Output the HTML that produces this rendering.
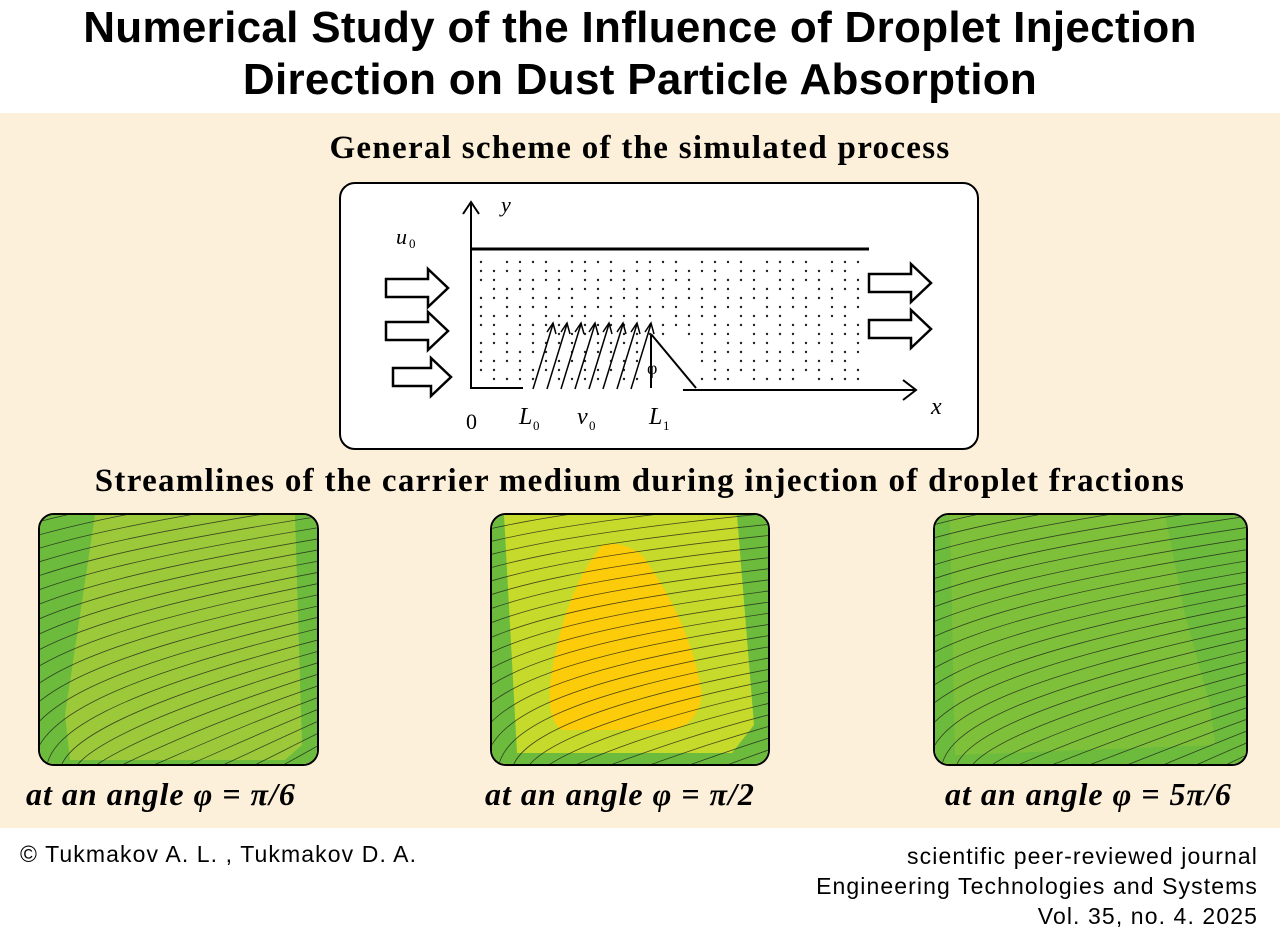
<!DOCTYPE html>
<html><head><meta charset="utf-8">
<style>
body{margin:0;width:1280px;height:951px;position:relative;background:#fff;font-family:"Liberation Sans",sans-serif;overflow:hidden}
.t{position:absolute;left:0;width:1280px;text-align:center}
#title{top:2px;font-size:44px;font-weight:bold;line-height:52px;color:#000;letter-spacing:0.3px}
#band{position:absolute;left:0;top:113px;width:1280px;height:715px;background:#fdf0da}
.h2{font-family:"Liberation Serif",serif;font-weight:bold;font-size:33px;letter-spacing:1.3px}
.cap{position:absolute;font-family:"Liberation Serif",serif;font-weight:bold;font-style:italic;font-size:32px;top:776px;letter-spacing:1px}
.panel{position:absolute;top:513px;height:253px;border:2px solid #000;border-radius:16px;overflow:hidden;box-sizing:border-box}
.ft{position:absolute;font-size:23px;color:#000;letter-spacing:1.1px}
</style></head><body>
<div id="title" class="t">Numerical Study of the Influence of Droplet Injection<br>Direction on Dust Particle Absorption</div>
<div id="band"></div>
<div class="t h2" style="top:130px">General scheme of the simulated process</div>
<div style="position:absolute;left:339px;top:182px;width:640px;height:268px;box-sizing:border-box;border:2px solid #000;border-radius:16px;background:#fff">
<svg width="636" height="264" id="scheme" style="position:absolute;left:0;top:0" font-family="Liberation Serif,serif">
<g stroke="#000" stroke-width="2" fill="none">
<line x1="130" y1="205" x2="130" y2="20"/><path d="M122 30 L130 18 L138 30"/>
<line x1="130" y1="65" x2="528" y2="65" stroke-width="3"/>
<line x1="130" y1="204" x2="182" y2="204"/>
<line x1="342" y1="206" x2="575" y2="206"/><path d="M562 196 L575 206 L562 216"/>
<path d="M310 150 L355 204 M310 150 L310 204"/>
</g>
<g fill="#fff" stroke="#000" stroke-width="2.5">
<path d="M45 95 h42 v-10 l20 19 l-20 19 v-10 h-42z"/>
<path d="M45 138 h42 v-10 l20 19 l-20 19 v-10 h-42z"/>
<path d="M52 184 h38 v-10 l20 19 l-20 19 v-10 h-38z"/>
<path d="M528 90 h42 v-10 l20 19 l-20 19 v-10 h-42z"/>
<path d="M528 136 h42 v-10 l20 19 l-20 19 v-10 h-42z"/>
</g>
<g id="dots" fill="#222"></g>
<g id="arrows" stroke="#000" stroke-width="1.5" fill="none"></g>
<text x="55" y="60" font-size="22" font-style="italic">u</text><text x="68" y="64" font-size="13">0</text>
<text x="160" y="28" font-size="22" font-style="italic">y</text>
<text x="125" y="245" font-size="22">0</text>
<text x="178" y="240" font-size="24" font-style="italic">L</text><text x="192" y="246" font-size="13">0</text>
<text x="236" y="240" font-size="24" font-style="italic">v</text><text x="248" y="246" font-size="13">0</text>
<text x="308" y="240" font-size="24" font-style="italic">L</text><text x="322" y="246" font-size="13">1</text>
<text x="590" y="230" font-size="24" font-style="italic">x</text>
<text x="306" y="190" font-size="18">φ</text>
</svg></div>
<div class="t h2" style="top:463px">Streamlines of the carrier medium during injection of droplet fractions</div>
<div class="panel" style="left:38px;width:281px"><svg id="p1" width="281" height="253"></svg></div>
<div class="panel" style="left:490px;width:280px"><svg id="p2" width="280" height="253"></svg></div>
<div class="panel" style="left:933px;width:315px"><svg id="p3" width="315" height="253"></svg></div>
<div class="cap" style="left:26px">at an angle φ = π/6</div>
<div class="cap" style="left:485px">at an angle φ = π/2</div>
<div class="cap" style="left:945px">at an angle φ = 5π/6</div>
<div class="ft" style="left:20px;top:841px">© Tukmakov A. L. , Tukmakov D. A.</div>
<div class="ft" style="right:22px;top:841px;text-align:right;line-height:30px">scientific peer-reviewed journal<br>Engineering Technologies and Systems<br>Vol. 35, no. 4. 2025</div>
<script>
var NS="http://www.w3.org/2000/svg";
function el(p,t,a){var e=document.createElementNS(NS,t);for(var k in a)e.setAttribute(k,a[k]);p.appendChild(e);return e;}
var d=document.getElementById('dots');
for(var x=140;x<520;x+=13){for(var y=78;y<198;y+=9){if(x>300&&x<350&&y>150)continue;if((x*7+y*3)%5==0)continue;el(d,'circle',{cx:x+(y%3),cy:y,r:1.2});}}
var a=document.getElementById('arrows');
for(var i=0;i<8;i++){var x0=192+i*14;el(a,'line',{x1:x0,y1:205,x2:x0+20,y2:140});el(a,'path',{d:'M'+(x0+14)+' 148 L'+(x0+20)+' 139 L'+(x0+23)+' 150'});}
function panel(id,W,H,bg,zones,rise){
 var s=document.getElementById(id);
 el(s,'rect',{x:0,y:0,width:W,height:H,fill:bg});
 zones.forEach(function(z){el(s,'path',{d:z[0],fill:z[1]});});
 for(var i=0;i<40;i++){
  var xs=-260+i*14, ye=-30+i*11;
  var p='M'+xs+' '+(H+5)+' C'+xs+' '+(ye+40)+' '+(xs+60)+' '+ye+' '+(W+20)+' '+(ye-rise);
  el(s,'path',{d:p,stroke:'#1a1a1a','stroke-width':0.8,fill:'none',opacity:0.75});
 }
}
panel('p1',281,253,'#6cbb3c',[['M55 0 L255 0 L262 230 L245 245 L30 245 L25 200 Z','#9cc93a']],60);
panel('p2',280,253,'#6cbb3c',[['M12 0 L245 0 L262 210 L240 238 L25 238 Z','#c5da2a'],['M110 30 Q130 25 150 40 Q200 110 210 180 Q205 210 180 215 L70 215 Q55 205 58 170 Q70 80 110 30 Z','#fccb0a']],40);
panel('p3',315,253,'#6cbb3c',[['M15 0 L230 0 L250 100 L275 190 L280 230 L20 240 Z','#7fc03b']],60);
</script>
</body></html>
